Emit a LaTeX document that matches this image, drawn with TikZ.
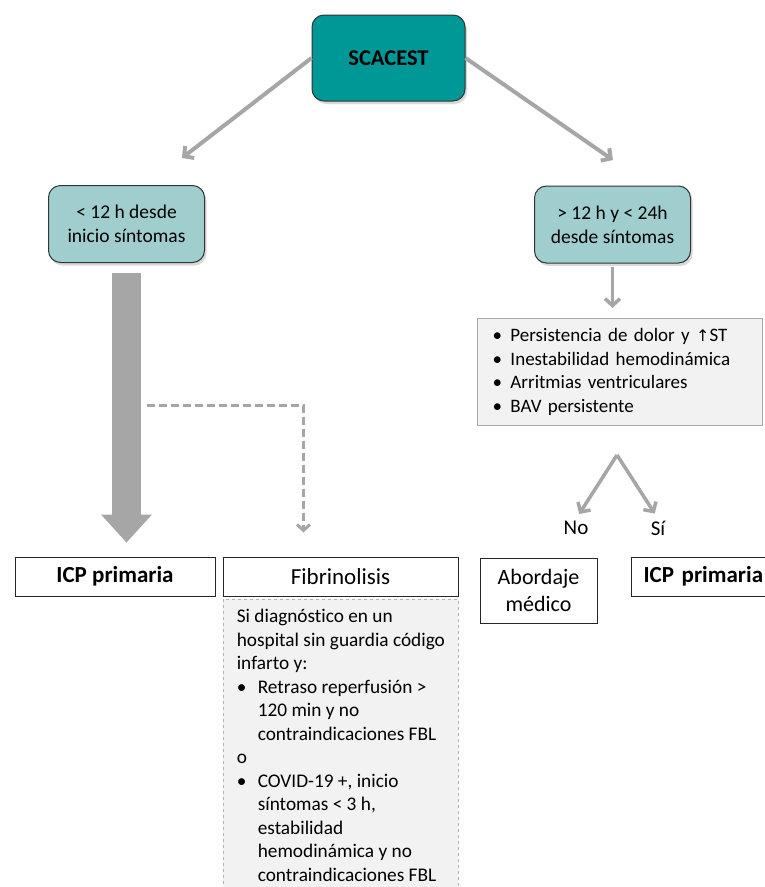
\documentclass[tikz,border=0pt]{standalone}
\usepackage{fontspec}
\setmainfont{Carlito}[Ligatures=NoCommon]
\newfontfamily\symbfont{DejaVu Sans}
\usetikzlibrary{arrows.meta,shadows}

\definecolor{tealdark}{RGB}{0,151,151}
\definecolor{tealpale}{RGB}{160,206,206}
\definecolor{arrowgrey}{RGB}{166,166,166}
\definecolor{boxgrey}{RGB}{242,242,242}

\newcommand{\bpt}[1]{\makebox[#1][l]{\textbullet}}

\tikzset{
    tealbox/.style={draw=black!80, line width=1pt, fill=tealdark, rounded corners=12pt,
        minimum width=153pt, minimum height=86pt,
        font=\fontsize{22.5}{27}\selectfont\bfseries,
        drop shadow={opacity=0.3, shadow xshift=2pt, shadow yshift=-3pt}},
    palebox/.style={draw=black!80, line width=1pt, fill=tealpale, rounded corners=12pt,
        minimum width=156pt, minimum height=77pt, align=center,
        font=\fontsize{19.5}{24}\selectfont,
        drop shadow={opacity=0.3, shadow xshift=2pt, shadow yshift=-3pt}},
    plainbox/.style={draw=black!85, line width=1pt, fill=white, minimum height=39pt,
        font=\fontsize{23}{27}\selectfont},
    greyarrow/.style={draw=arrowgrey, line width=3.5pt,
        -{Straight Barb[length=7pt,width=15pt]}}
}

\begin{document}
\begin{tikzpicture}[x=1pt, y=1pt]
    \useasboundingbox (0,0) rectangle (764,-887);

    % Top boxes
    \node[tealbox] (sc) at (388.5,-58) {SCACEST};
    \node[palebox] (lt) at (126.5,-224) {< 12 h desde\\inicio síntomas};
    \node[palebox] (rt) at (612.5,-224.5) {> 12 h y < 24h\\desde síntomas};

    % Criteria list
    \node[draw=arrowgrey, line width=1pt, fill=boxgrey, anchor=north west,
        text width=255pt, minimum height=107pt, inner xsep=15pt, align=left,
        font=\fontsize{19}{23.5}\selectfont] (crit) at (477,-318)
        {\bpt{18pt}Persistencia de dolor y {\symbfont\fontsize{16}{23}\selectfont↑}ST\\
         \bpt{18pt}Inestabilidad hemodinámica\\
         \bpt{18pt}Arritmias ventriculares\\
         \bpt{18pt}BAV persistente};

    % Bottom boxes
    \node[plainbox, minimum width=200pt, font=\fontsize{23}{27}\selectfont\bfseries] (icpa) at (115,-576.5) {ICP primaria};
    \node[plainbox, minimum width=235pt] (fib) at (340.5,-576.5) {Fibrinolisis};
    \node[plainbox, minimum width=117pt, minimum height=65pt, align=center,
        font=\fontsize{22}{27}\selectfont] (abord) at (538.5,-590.5) {Abordaje\\médico};
    \node[plainbox, anchor=west, text width=130pt, inner xsep=12pt, align=left,
        font=\fontsize{23}{27}\selectfont\bfseries] (icpb) at (631,-576.5) {ICP primaria};

    % Fibrinolysis conditions
    \node[draw=black!30, dashed, line width=0.8pt, fill=boxgrey, anchor=north west,
        minimum width=235pt, inner xsep=2pt, inner ysep=10pt, align=left,
        font=\fontsize{19.3}{23.5}\selectfont] (cond) at (223,-599)
        {Si diagnóstico en un\\
         hospital sin guardia código\\
         infarto y:\\
         \bpt{21pt}Retraso reperfusión >\\
         \hspace*{21pt}120 min y no\\
         \hspace*{21pt}contraindicaciones FBL\\
         o\\
         \bpt{21pt}COVID-19 +, inicio\\
         \hspace*{21pt}síntomas < 3 h,\\
         \hspace*{21pt}estabilidad\\
         \hspace*{21pt}hemodinámica y no\\
         \hspace*{21pt}contraindicaciones FBL};

    % Yes / no
    \coordinate (apex) at (617,-455);
    \node[font=\fontsize{21}{25}\selectfont, inner sep=2pt] (no) at (576,-528) {No};
    \node[font=\fontsize{21}{25}\selectfont, inner sep=2pt] (si) at (658,-528) {Sí};

    % Arrows
    \coordinate (ltin) at (182,-158);
    \coordinate (rtin) at (613,-160);
    \draw[greyarrow, line width=4pt] (sc.west) -- (ltin);
    \draw[greyarrow, line width=4pt] (sc.east) -- (rtin);
    \draw[greyarrow, shorten <=3pt, shorten >=10pt] (rt.south) -- (rt.south |- crit.north);
    \draw[greyarrow, shorten >=6pt] (apex) -- (no.north);
    \draw[greyarrow, shorten >=6pt] (apex) -- (si.north);

    % Block arrow and dashed branch
    \draw[arrowgrey, line width=29pt, -{Triangle[length=28pt,width=51pt,line width=0pt]},
        shorten <=10pt, shorten >=14pt] (lt.south) -- (lt.south |- icpa.north);
    \coordinate (dstart) at (147,-405);
    \draw[arrowgrey, line width=3pt, dash pattern=on 8pt off 4pt,
        -{Straight Barb[length=6pt,width=13pt]}, shorten >=24pt]
        (dstart) -| ([xshift=-37pt]fib.north);
\end{tikzpicture}
\end{document}
